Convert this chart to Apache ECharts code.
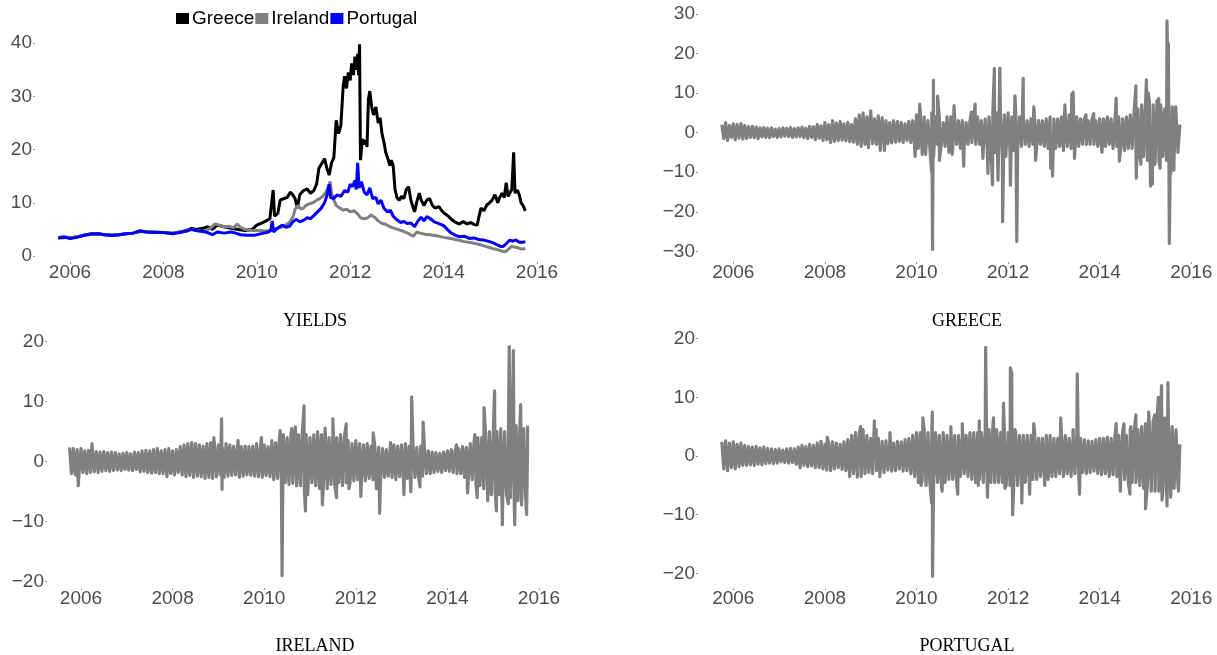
<!DOCTYPE html>
<html>
<head>
<meta charset="utf-8">
<script src="https://cdn.jsdelivr.net/npm/echarts@6/dist/echarts.min.js"></script>
<style>
html,body{margin:0;padding:0;background:#fff;}
#chart{width:1217px;height:655px;}
</style>
</head>
<body>
<div id="chart"></div>
<script>
// ---------------- DATA ----------------
const yearTicks = [2006, 2008, 2010, 2012, 2014, 2016];
const yieldTicks = [0, 10, 20, 30, 40];
const greeceTicks = [-30, -20, -10, 0, 10, 20, 30];
const irelandTicks = [-20, -10, 0, 10, 20];
const portugalTicks = [-20, -10, 0, 10, 20];
const panelTitles = ['YIELDS', 'GREECE', 'IRELAND', 'PORTUGAL'];
const seriesNames = ['Greece', 'Ireland', 'Portugal'];

// Yields: [year, percent]
const greeceYield = [[2005.75,3.5],[2005.9,3.6],[2006.0,3.4],[2006.15,3.6],[2006.3,3.9],[2006.45,4.2],[2006.6,4.2],[2006.75,4.0],[2006.9,3.9],[2007.05,4.0],[2007.2,4.2],[2007.35,4.3],[2007.5,4.7],[2007.65,4.5],[2007.8,4.5],[2008.0,4.4],[2008.2,4.3],[2008.35,4.5],[2008.5,4.8],[2008.6,5.2],[2008.7,5.0],[2008.85,5.2],[2008.95,5.5],[2009.05,5.0],[2009.15,5.8],[2009.3,5.5],[2009.45,5.2],[2009.6,5.0],[2009.75,4.8],[2009.9,5.0],[2010.0,5.8],[2010.1,6.2],[2010.2,6.6],[2010.28,7.0],[2010.32,6.8],[2010.35,12.4],[2010.38,7.5],[2010.45,8.0],[2010.5,10.5],[2010.58,10.8],[2010.65,11.0],[2010.72,12.0],[2010.77,11.5],[2010.82,10.8],[2010.87,9.0],[2010.92,11.5],[2011.0,12.3],[2011.08,12.6],[2011.15,11.8],[2011.22,12.3],[2011.28,13.5],[2011.33,16.5],[2011.4,17.5],[2011.45,18.3],[2011.5,16.5],[2011.55,15.2],[2011.6,17.5],[2011.65,18.5],[2011.7,25.5],[2011.75,23.0],[2011.8,24.5],[2011.85,32.0],[2011.88,33.8],[2011.92,31.5],[2011.96,34.5],[2012.0,33.0],[2012.03,36.2],[2012.07,34.0],[2012.1,37.5],[2012.13,35.0],[2012.16,38.0],[2012.18,34.0],[2012.2,39.8],[2012.22,18.0],[2012.26,22.0],[2012.3,21.0],[2012.34,21.8],[2012.36,20.5],[2012.39,29.5],[2012.42,31.0],[2012.46,28.0],[2012.5,26.5],[2012.55,28.0],[2012.6,25.0],[2012.64,26.0],[2012.68,23.0],[2012.72,21.5],[2012.76,19.5],[2012.8,18.5],[2012.85,17.0],[2012.88,18.0],[2012.92,17.0],[2012.96,12.5],[2013.0,11.0],[2013.05,10.5],[2013.1,11.2],[2013.15,10.8],[2013.2,12.5],[2013.25,13.0],[2013.3,10.5],[2013.35,9.0],[2013.38,8.3],[2013.42,10.0],[2013.48,11.8],[2013.52,10.5],[2013.58,9.5],[2013.64,10.5],[2013.7,10.8],[2013.76,9.5],[2013.82,9.0],[2013.9,9.3],[2013.96,8.5],[2014.02,8.0],[2014.1,7.5],[2014.18,6.8],[2014.26,6.3],[2014.34,6.0],[2014.42,6.5],[2014.5,6.0],[2014.58,6.3],[2014.66,5.9],[2014.72,5.8],[2014.76,7.5],[2014.8,9.0],[2014.86,8.5],[2014.92,9.5],[2014.98,10.0],[2015.04,10.5],[2015.1,11.5],[2015.16,10.0],[2015.2,11.0],[2015.25,11.8],[2015.3,11.0],[2015.34,13.8],[2015.38,11.2],[2015.42,11.5],[2015.46,12.5],[2015.5,19.5],[2015.53,11.8],[2015.58,12.4],[2015.62,11.5],[2015.66,10.0],[2015.7,9.5],[2015.75,8.5]];

const irelandYield = [[2005.75,3.4],[2005.9,3.6],[2006.0,3.4],[2006.15,3.6],[2006.3,3.9],[2006.45,4.1],[2006.6,4.1],[2006.75,4.0],[2006.9,3.9],[2007.05,4.0],[2007.2,4.2],[2007.35,4.3],[2007.5,4.6],[2007.65,4.5],[2007.8,4.4],[2008.0,4.4],[2008.2,4.3],[2008.35,4.5],[2008.5,4.7],[2008.6,5.0],[2008.7,4.8],[2008.85,4.6],[2009.0,5.2],[2009.1,6.0],[2009.2,5.8],[2009.3,5.5],[2009.4,5.6],[2009.5,5.3],[2009.58,6.0],[2009.65,5.4],[2009.75,5.0],[2009.9,4.8],[2010.05,4.8],[2010.2,4.7],[2010.35,5.0],[2010.45,5.2],[2010.55,5.5],[2010.65,6.0],[2010.72,6.5],[2010.78,7.5],[2010.82,8.8],[2010.88,9.5],[2010.95,8.8],[2011.0,9.0],[2011.05,9.5],[2011.12,9.8],[2011.2,10.0],[2011.28,10.5],[2011.35,10.8],[2011.42,11.3],[2011.48,12.0],[2011.53,13.0],[2011.57,14.0],[2011.6,12.0],[2011.65,10.5],[2011.7,9.5],[2011.78,9.0],[2011.85,8.6],[2011.92,8.8],[2012.0,8.3],[2012.08,8.5],[2012.15,8.0],[2012.22,7.2],[2012.3,7.0],[2012.38,7.2],[2012.45,7.7],[2012.52,7.3],[2012.6,6.6],[2012.68,6.1],[2012.75,6.0],[2012.85,5.5],[2012.95,5.2],[2013.05,4.9],[2013.15,4.6],[2013.25,4.2],[2013.35,3.7],[2013.42,4.5],[2013.5,4.3],[2013.6,4.1],[2013.7,4.0],[2013.85,3.8],[2014.0,3.5],[2014.15,3.3],[2014.3,3.0],[2014.45,2.7],[2014.6,2.5],[2014.75,2.2],[2014.9,1.8],[2015.05,1.4],[2015.15,1.2],[2015.25,0.9],[2015.32,0.8],[2015.38,1.2],[2015.45,1.8],[2015.52,1.7],[2015.6,1.5],[2015.68,1.3],[2015.75,1.4]];

const portugalYield = [[2005.75,3.4],[2005.9,3.5],[2006.0,3.3],[2006.15,3.5],[2006.3,3.9],[2006.45,4.1],[2006.6,4.2],[2006.75,4.0],[2006.9,3.9],[2007.05,4.0],[2007.2,4.2],[2007.35,4.3],[2007.5,4.7],[2007.65,4.5],[2007.8,4.4],[2008.0,4.4],[2008.2,4.2],[2008.35,4.4],[2008.5,4.7],[2008.6,5.0],[2008.7,4.8],[2008.85,4.6],[2008.95,4.4],[2009.05,4.0],[2009.15,4.5],[2009.3,4.3],[2009.45,4.5],[2009.55,4.3],[2009.65,4.0],[2009.8,3.9],[2009.95,3.9],[2010.1,4.2],[2010.25,4.5],[2010.3,4.8],[2010.33,6.6],[2010.36,4.5],[2010.45,5.3],[2010.55,5.8],[2010.62,5.4],[2010.7,5.6],[2010.78,6.5],[2010.85,6.9],[2010.92,6.4],[2011.0,6.7],[2011.08,7.2],[2011.15,7.0],[2011.22,7.6],[2011.3,8.3],[2011.38,9.0],[2011.45,10.0],[2011.5,11.3],[2011.55,13.5],[2011.58,11.0],[2011.65,10.8],[2011.72,11.5],[2011.8,11.2],[2011.88,12.3],[2011.95,12.0],[2012.0,13.5],[2012.05,13.0],[2012.1,14.2],[2012.13,12.5],[2012.16,17.5],[2012.19,12.8],[2012.24,14.0],[2012.3,12.0],[2012.36,11.5],[2012.42,12.8],[2012.48,10.8],[2012.55,11.0],[2012.6,9.8],[2012.66,10.5],[2012.72,9.0],[2012.8,8.3],[2012.86,8.6],[2012.92,7.5],[2013.0,6.8],[2013.08,6.3],[2013.15,6.5],[2013.22,6.1],[2013.3,6.2],[2013.38,5.5],[2013.45,6.6],[2013.52,7.3],[2013.58,6.6],[2013.64,7.4],[2013.72,7.0],[2013.8,6.4],[2013.9,6.1],[2014.0,5.7],[2014.08,5.0],[2014.15,4.4],[2014.25,3.9],[2014.35,3.6],[2014.45,3.7],[2014.55,3.3],[2014.65,3.4],[2014.75,3.1],[2014.85,3.0],[2014.95,2.8],[2015.05,2.5],[2015.15,2.1],[2015.22,1.8],[2015.28,1.8],[2015.35,2.4],[2015.42,3.0],[2015.48,2.8],[2015.55,3.0],[2015.62,2.6],[2015.7,2.6],[2015.75,2.7]];

// Daily-return bands: 24 readings per year starting at startYear, alternating upper/lower envelope
const startYear = 2005.75;
const greeceBand = [
 [2.0,-1.5,2.5,-2.0,1.8,-1.2,2.2,-1.8,2.0,-1.4,2.3,-1.6,1.8,-1.5,1.5,-1.2,1.6,-1.3,1.4,-1.5,1.2,-1.1,1.3,-1.2],
 [1.1,-1.3,1.2,-1.0,0.9,-1.2,1.0,-1.1,1.2,-0.9,1.1,-1.0,1.3,-1.2,1.0,-1.1,1.2,-1.0,1.4,-1.3,1.1,-1.5,1.6,-1.2],
 [1.5,-1.8,2.0,-1.4,1.7,-2.0,2.5,-1.8,2.0,-2.5,3.0,-2.2,2.4,-2.0,2.8,-1.9,2.2,-2.1,2.6,-2.3,2.0,-2.4,3.5,-3.0],
 [4.5,-3.5,5.0,-3.0,4.0,-3.5,5.5,-2.8,3.5,-3.0,4.2,-4.5,3.8,-2.5,3.0,-2.8,2.5,-2.6,3.0,-2.4,2.8,-2.2,2.5,-2.5],
 [2.2,-2.0,2.8,-2.5,3.0,-3.5,4.5,-4.0,5.0,-5.5,4.0,-3.5,3.0,-4.0,5.0,-6.0,4.0,-3.0,3.5,-3.0,2.5,-3.5,4.0,-5.0],
 [4.0,-4.0,3.5,-3.0,3.0,-4.0,3.0,-3.5,2.5,-3.0,3.0,-2.5,3.5,-3.0,4.0,-3.0,3.0,-4.0,3.5,-3.5,4.0,-4.0,5.0,-5.0],
 [5.0,-5.0,4.0,-6.0,4.5,-4.0,5.0,-5.0,4.0,-4.5,5.5,-4.0,4.0,-3.5,3.5,-3.0,3.0,-3.5,3.5,-3.0,3.0,-3.5,3.0,-3.0],
 [3.0,-3.5,3.5,-4.0,4.0,-4.5,3.5,-4.0,3.5,-3.5,4.0,-4.5,4.0,-3.5,4.5,-4.0,4.0,-5.0,4.0,-3.5,3.5,-3.0,3.5,-3.0],
 [3.0,-3.0,3.5,-3.0,3.0,-3.5,3.5,-4.0,3.5,-3.5,4.0,-3.0,3.5,-4.0,3.0,-3.5,4.0,-4.0,3.5,-4.5,4.0,-4.0,4.5,-4.0],
 [5.0,-5.0,6.0,-6.0,7.0,-6.0,7.0,-7.0,8.0,-7.0,7.0,-8.0,8.0,-7.0,7.0,-6.0,6.0,-7.0,6.0,-6.0,6.5,-6.0,5.0,-5.0]
];
const greeceLast = 2.0;
const greeceSpikes = [[2008.85,5.5],[2008.95,-3.8],[2009.02,5.3],[2009.1,4.0],[2009.25,4.2],[2009.3,-4.5],[2009.97,-6.0],[2010.07,7.2],[2010.2,-5.5],[2010.33,-10.0],[2010.35,-29.5],[2010.37,13.2],[2010.46,9.2],[2010.5,-7.0],[2010.78,-5.5],[2010.82,6.8],[2011.03,-8.5],[2011.2,5.2],[2011.28,7.2],[2011.45,-6.5],[2011.56,-10.3],[2011.66,-13.2],[2011.7,16.2],[2011.78,-12.0],[2011.82,16.3],[2011.88,-22.5],[2011.95,-6.0],[2012.05,-13.3],[2012.15,9.3],[2012.19,-27.5],[2012.33,13.7],[2012.56,6.5],[2012.6,-7.0],[2012.93,-9.0],[2012.97,-11.0],[2013.24,7.0],[2013.39,9.8],[2013.42,10.2],[2013.45,-6.5],[2013.7,4.5],[2013.87,4.8],[2014.05,-5.0],[2014.2,4.0],[2014.36,8.7],[2014.43,-7.2],[2014.79,11.8],[2014.8,-11.5],[2014.9,-8.0],[2015.02,13.3],[2015.06,10.0],[2015.11,-13.5],[2015.15,-13.0],[2015.29,8.6],[2015.32,-9.0],[2015.47,28.2],[2015.5,22.5],[2015.52,-28.0],[2015.55,-10.5],[2015.62,-9.5],[2015.66,6.5]];

const irelandBand = [
 [2.4,-2.0,2.2,-2.2,2.0,-1.8,2.2,-1.8,1.8,-2.0,1.9,-1.8,1.8,-1.7,1.7,-1.8,1.6,-1.6,1.7,-1.5,1.5,-1.6,1.6,-1.5],
 [1.5,-1.4,1.3,-1.5,1.4,-1.3,1.5,-1.4,1.3,-1.5,1.6,-1.3,1.5,-1.7,1.8,-1.6,1.9,-1.8,1.8,-1.9,2.0,-1.8,2.2,-2.0],
 [1.8,-2.0,2.0,-2.5,2.2,-2.0,1.8,-2.2,2.0,-1.8,2.5,-2.2,2.8,-2.5,3.0,-2.3,3.2,-2.6,3.0,-2.4,2.8,-2.5,2.6,-2.8],
 [3.0,-2.6,3.2,-2.8,2.6,-2.5,2.8,-2.2,2.5,-2.6,3.0,-2.4,2.8,-2.3,2.6,-2.2,2.4,-2.6,2.5,-2.4,2.6,-2.2,2.5,-2.3],
 [2.6,-2.4,3.0,-2.5,2.4,-2.6,2.8,-2.3,2.5,-2.5,3.5,-3.0,3.2,-2.8,4.0,-3.5,4.5,-3.5,4.0,-3.8,4.5,-3.6,5.0,-4.0],
 [4.5,-4.0,5.0,-4.5,4.5,-4.0,4.0,-3.5,4.5,-4.0,5.0,-4.5,4.5,-4.0,5.0,-4.5,4.0,-3.8,4.5,-4.0,4.0,-3.5,4.5,-4.0],
 [4.0,-3.5,3.5,-3.5,3.0,-3.2,3.5,-3.0,3.0,-3.0,2.8,-3.2,3.0,-2.8,2.6,-3.0,2.5,-2.6,2.4,-2.5,2.2,-2.6,2.0,-2.4],
 [2.2,-2.6,2.8,-3.0,2.6,-2.5,2.8,-3.2,3.0,-2.8,2.6,-3.0,2.5,-2.6,2.4,-2.8,2.6,-2.4,2.2,-2.0,1.8,-2.0,1.6,-1.8],
 [1.5,-1.6,1.4,-1.8,1.6,-1.5,1.8,-1.6,2.0,-1.8,1.8,-2.0,2.2,-2.0,2.5,-2.6,2.4,-2.8,3.0,-3.0,3.5,-3.8,4.0,-4.0],
 [4.0,-4.5,4.5,-5.0,5.0,-5.5,4.5,-5.0,5.0,-5.5,5.5,-6.0,5.0,-5.5,6.0,-6.0,5.5,-6.5,6.0,-6.5,6.0,-6.0,5.5,-6.0]
];
const irelandLast = 2.5;
const irelandSpikes = [[2005.94,-4.0],[2006.24,3.0],[2008.9,4.0],[2009.07,7.2],[2009.08,-4.6],[2009.43,3.5],[2009.94,4.0],[2010.35,5.2],[2010.39,-19.0],[2010.6,5.5],[2010.68,5.8],[2010.87,9.3],[2010.9,-8.2],[2010.95,-5.5],[2011.27,-7.2],[2011.33,5.6],[2011.5,7.2],[2011.58,-6.0],[2011.79,6.3],[2011.85,-4.5],[2012.11,-5.8],[2012.38,4.8],[2012.45,-4.5],[2012.52,-8.6],[2012.76,3.2],[2013.05,-5.5],[2013.2,-5.0],[2013.22,10.8],[2013.4,-4.2],[2013.47,6.6],[2014.2,2.8],[2014.44,-5.2],[2014.6,4.5],[2014.65,-6.0],[2014.8,9.0],[2014.88,-6.5],[2015.03,11.8],[2015.07,-8.2],[2015.2,-10.5],[2015.25,5.0],[2015.33,-7.0],[2015.35,19.2],[2015.44,18.5],[2015.47,-10.5],[2015.6,9.5],[2015.62,-7.2],[2015.73,-8.8],[2015.75,6.0]];

const portugalBand = [
 [2.4,-2.2,2.6,-2.5,2.2,-2.0,2.4,-2.2,2.0,-1.8,2.2,-1.6,1.8,-1.6,1.6,-1.5,1.5,-1.6,1.6,-1.4,1.4,-1.5,1.5,-1.3],
 [1.3,-1.2,1.2,-1.3,1.1,-1.2,1.2,-1.0,1.0,-1.1,1.2,-1.2,1.3,-1.1,1.2,-1.4,1.5,-2.0,1.8,-1.6,1.6,-1.8,2.0,-1.7],
 [1.8,-2.0,2.2,-2.0,2.5,-2.2,2.0,-2.4,2.2,-2.5,2.4,-2.2,2.2,-2.0,2.0,-2.3,2.4,-2.5,2.8,-3.5,3.5,-3.0,4.0,-3.6],
 [4.0,-3.5,4.5,-3.0,3.5,-2.8,3.0,-3.0,2.8,-2.5,3.0,-2.6,2.5,-2.8,2.6,-2.4,2.4,-2.6,2.2,-2.5,2.5,-2.2,2.4,-2.6],
 [2.8,-2.5,3.0,-3.0,3.5,-3.5,4.0,-4.5,4.0,-4.0,4.5,-5.0,4.0,-4.5,3.5,-4.0,4.0,-4.5,3.5,-5.0,4.0,-4.5,3.5,-4.0],
 [3.5,-4.0,3.5,-4.5,3.5,-3.5,3.5,-3.0,3.5,-3.5,4.0,-4.0,4.0,-4.5,4.0,-4.0,4.0,-4.5,4.5,-4.0,4.5,-4.5,5.0,-4.5],
 [4.5,-4.5,4.0,-4.5,4.5,-5.0,4.0,-5.0,4.5,-4.5,4.0,-5.0,3.5,-4.0,3.5,-4.5,3.5,-4.0,3.5,-4.0,3.5,-4.0,3.0,-3.5],
 [3.0,-3.5,3.5,-4.0,3.5,-3.5,3.0,-3.5,3.0,-3.0,3.5,-3.5,3.5,-3.0,3.0,-3.5,3.0,-3.0,2.8,-3.0,3.0,-2.8,2.8,-3.0],
 [2.6,-2.8,2.5,-2.6,2.8,-3.0,3.0,-3.2,3.0,-3.0,3.2,-3.5,3.0,-3.2,3.5,-3.5,3.5,-4.0,4.0,-4.0,3.5,-4.5,4.5,-4.5],
 [4.0,-4.5,4.5,-5.0,5.0,-5.5,5.5,-5.0,5.5,-6.0,6.0,-6.0,6.5,-6.0,7.0,-6.5,6.5,-6.0,6.0,-5.5,5.0,-5.5,4.5,-5.0]
];
const portugalLast = 2.0;
const portugalSpikes = [[2008.05,3.2],[2008.78,5.0],[2008.8,-3.8],[2009.08,6.0],[2009.12,4.5],[2009.2,-3.5],[2009.42,4.0],[2010.1,-5.0],[2010.14,6.5],[2010.33,-8.0],[2010.345,7.5],[2010.35,-20.5],[2010.56,-6.0],[2010.75,5.0],[2010.9,-6.5],[2011.0,5.5],[2011.35,-5.0],[2011.37,6.0],[2011.51,18.5],[2011.55,-7.0],[2011.68,6.5],[2011.9,9.0],[2011.93,-5.5],[2012.05,15.0],[2012.08,14.0],[2012.1,-10.0],[2012.15,4.5],[2012.3,-8.0],[2012.47,-6.5],[2012.56,5.5],[2012.8,-5.0],[2013.15,6.5],[2013.42,4.5],[2013.51,14.0],[2013.56,-6.5],[2014.36,5.5],[2014.45,-6.0],[2014.53,5.5],[2014.66,-6.5],[2014.68,5.0],[2014.79,7.0],[2015.0,-9.0],[2015.07,7.5],[2015.2,7.0],[2015.28,10.0],[2015.35,12.0],[2015.36,-7.5],[2015.47,-8.5],[2015.49,12.5],[2015.55,-7.0],[2015.72,-6.0]];

// ---------------- BUILD ----------------
function buildReturns(band, last, spikes) {
  const pts = [];
  band.forEach((row, k) => row.forEach((v, j) => pts.push([startYear + k + j / 24, v])));
  pts.push([startYear + band.length, last]);
  spikes.forEach(s => pts.push([s[0], s[1]]));
  pts.sort((a, b) => a[0] - b[0]);
  return pts;
}

// Panel pixel frames (layout only)
const panels = [
  {left: 35,  right: 555,  top: 30,  bottom: 262, x0: 70,    ppy: 46.7, y0: 256,   ppu: 5.32, ticks: yieldTicks},
  {left: 698, right: 1212, top: 8,   bottom: 262, x0: 733.3, ppy: 45.8, y0: 132.6, ppu: 3.96, ticks: greeceTicks},
  {left: 47,  right: 565,  top: 334, bottom: 588, x0: 81,    ppy: 45.8, y0: 461.7, ppu: 6.0,  ticks: irelandTicks},
  {left: 698, right: 1212, top: 334, bottom: 588, x0: 733.3, ppy: 45.8, y0: 456,   ppu: 5.87, ticks: portugalTicks}
];
const titlePos = [[315, 321], [967, 321], [315, 646], [967, 646]];

const labelColor = '#4d4d4d';
const labelFont = 'Liberation Sans';
const grids = [], xAxes = [], yAxes = [];
panels.forEach((p, i) => {
  grids.push({left: p.left, top: p.top, width: p.right - p.left, height: p.bottom - p.top, containLabel: false});
  xAxes.push({
    gridIndex: i, type: 'value',
    min: 2006 + (p.left - p.x0) / p.ppy,
    max: 2006 + (p.right - p.x0) / p.ppy,
    axisLine: {show: false, onZero: false}, splitLine: {show: false},
    axisTick: {show: true, customValues: yearTicks, length: 2, lineStyle: {color: '#9a9a9a', width: 1}},
    axisLabel: {customValues: yearTicks, formatter: v => String(Math.round(v)), fontSize: 19,
      color: labelColor, fontFamily: labelFont, margin: 1}
  });
  yAxes.push({
    gridIndex: i, type: 'value',
    min: (p.y0 - p.bottom) / p.ppu,
    max: (p.y0 - p.top) / p.ppu,
    axisLine: {show: false, onZero: false}, splitLine: {show: false},
    axisTick: {show: true, customValues: p.ticks, length: 2, lineStyle: {color: '#9a9a9a', width: 1}},
    axisLabel: {customValues: p.ticks, formatter: v => (v < 0 ? '\u2212' + Math.abs(v) : String(v)),
      fontSize: 19, color: labelColor, fontFamily: labelFont, margin: 3}
  });
});

const lineBase = {type: 'line', showSymbol: false, symbol: 'none', animation: false, clip: true};
const retStyle = {width: 3.2, color: '#808080', join: 'round'};
const series = [
  Object.assign({}, lineBase, {name: seriesNames[0], xAxisIndex: 0, yAxisIndex: 0, data: greeceYield, color: '#000000', lineStyle: {width: 3, color: '#000000'}}),
  Object.assign({}, lineBase, {name: seriesNames[1], xAxisIndex: 0, yAxisIndex: 0, data: irelandYield, color: '#808080', lineStyle: {width: 3, color: '#808080'}}),
  Object.assign({}, lineBase, {name: seriesNames[2], xAxisIndex: 0, yAxisIndex: 0, data: portugalYield, color: '#0000ff', lineStyle: {width: 3, color: '#0000ff'}}),
  Object.assign({}, lineBase, {name: 'GreeceRet', xAxisIndex: 1, yAxisIndex: 1, data: buildReturns(greeceBand, greeceLast, greeceSpikes), lineStyle: retStyle}),
  Object.assign({}, lineBase, {name: 'IrelandRet', xAxisIndex: 2, yAxisIndex: 2, data: buildReturns(irelandBand, irelandLast, irelandSpikes), lineStyle: retStyle}),
  Object.assign({}, lineBase, {name: 'PortugalRet', xAxisIndex: 3, yAxisIndex: 3, data: buildReturns(portugalBand, portugalLast, portugalSpikes), lineStyle: retStyle})
];

const graphics = panelTitles.map((t, i) => ({
  type: 'text', x: titlePos[i][0], y: titlePos[i][1],
  style: {text: t, font: '18px "Liberation Serif"', fill: '#000', align: 'center', verticalAlign: 'middle'}
}));

const chart = echarts.init(document.getElementById('chart'), null, {renderer: 'canvas'});
chart.setOption({
  backgroundColor: '#ffffff',
  animation: false,
  legend: {
    data: seriesNames, left: 176, top: 9, padding: 0, itemGap: 1,
    itemWidth: 13, itemHeight: 11, icon: 'rect',
    textStyle: {fontSize: 19, color: '#000', fontFamily: labelFont, padding: [0, 0, 0, -2]}
  },
  grid: grids, xAxis: xAxes, yAxis: yAxes, series: series, graphic: graphics
});
</script>
</body>
</html>
